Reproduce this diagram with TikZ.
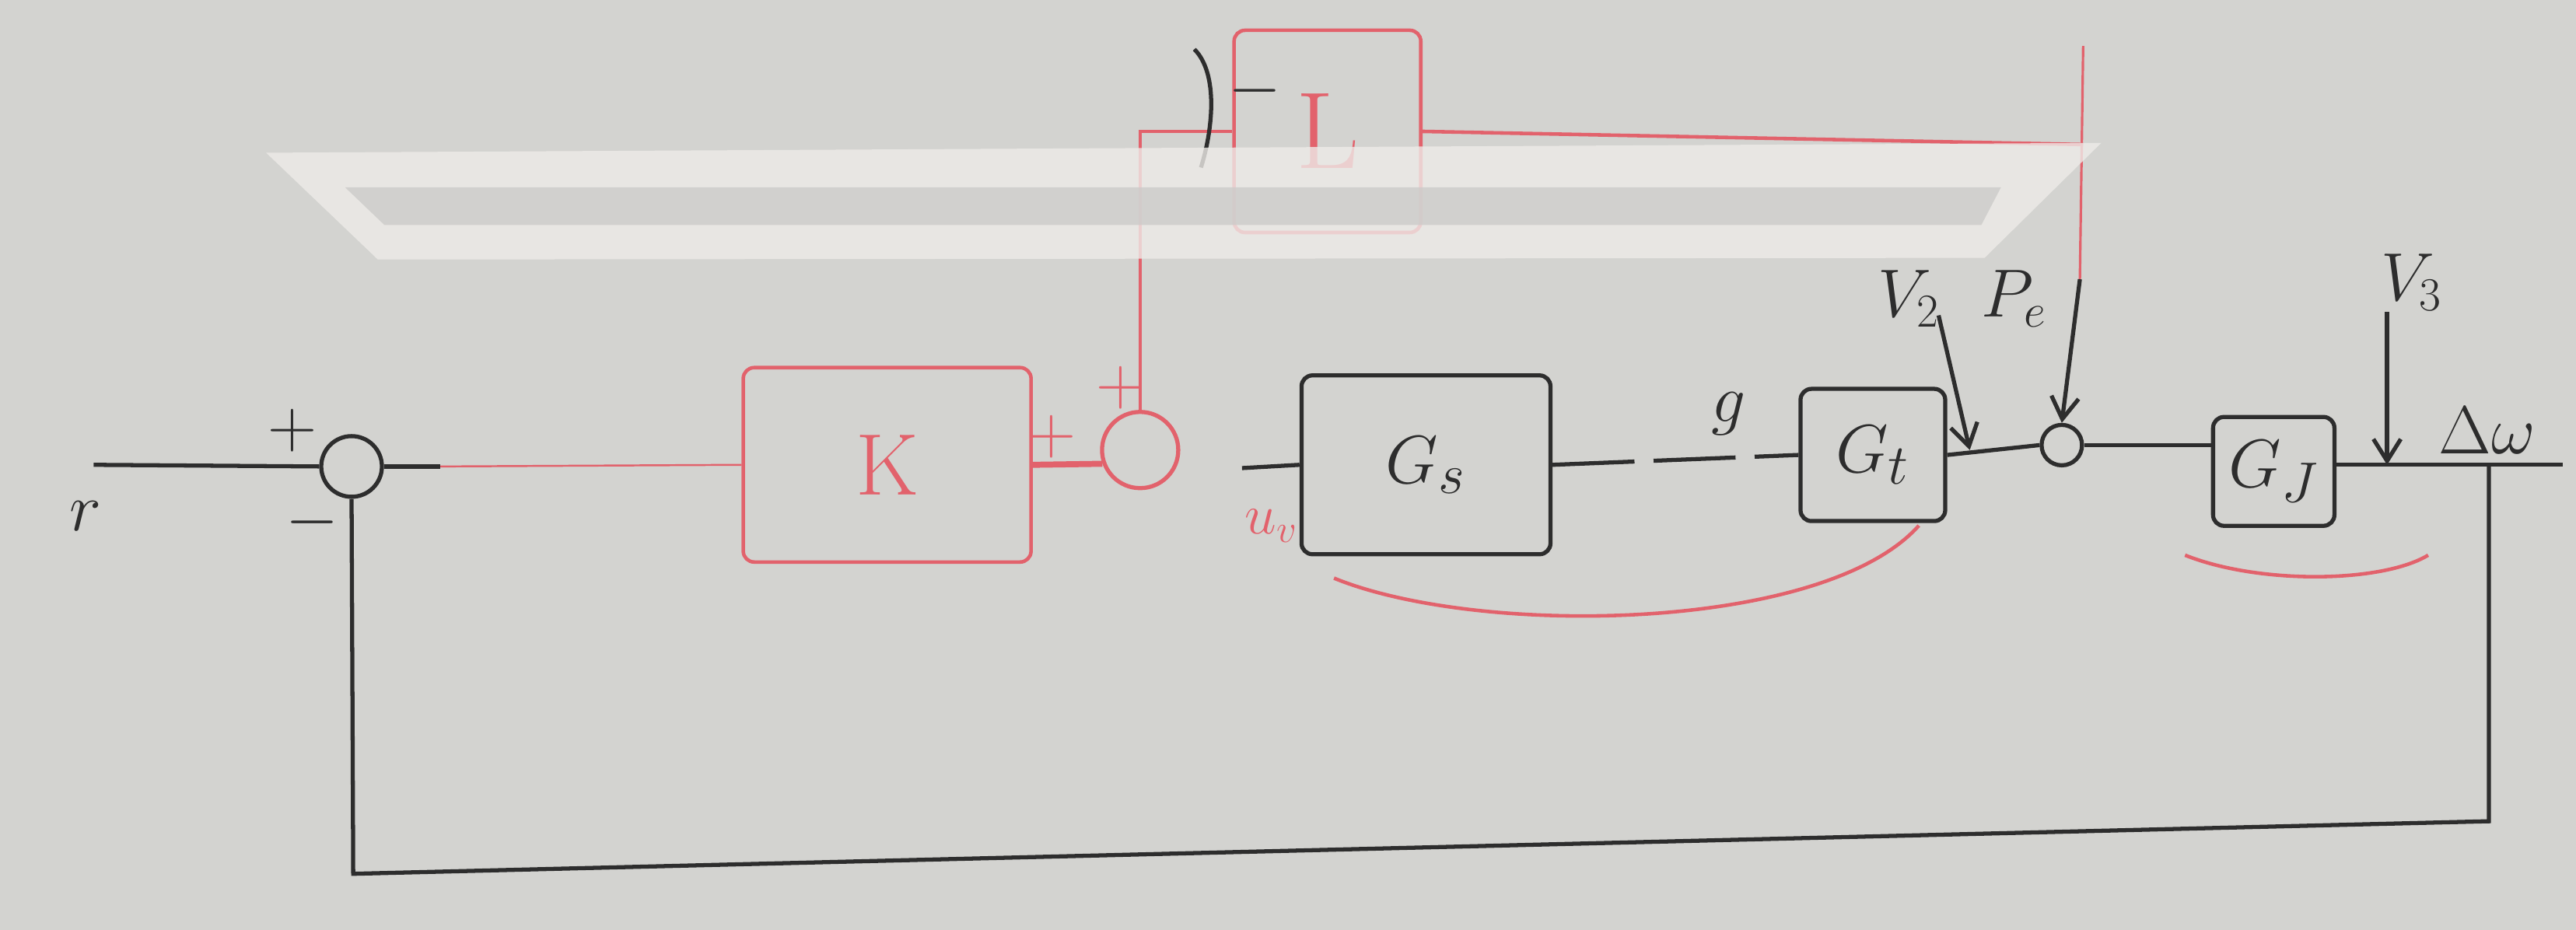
\documentclass[tikz,border=0pt]{standalone}
\usetikzlibrary{arrows.meta}
\definecolor{board}{RGB}{211,211,208}
\definecolor{glare}{RGB}{238,235,232}
\definecolor{stripe}{RGB}{204,203,201}
\definecolor{marker}{RGB}{45,45,45}
\definecolor{redmarker}{RGB}{226,98,108}

\tikzset{
  blk/.style={draw=marker, line width=1.5pt},
  redm/.style={draw=redmarker, line width=1.3pt},
  blkbox/.style={blk, rectangle, rounded corners=4pt, inner sep=0pt, text=marker,
    font=\fontsize{30}{34}\selectfont},
  redbox/.style={redm, rectangle, rounded corners=4pt, inner sep=0pt, text=redmarker,
    font=\fontsize{32}{36}\selectfont},
  sumjct/.style={blk, circle, inner sep=0pt},
  lbl/.style={text=marker, inner sep=0pt, font=\fontsize{24}{28}\selectfont},
  redlbl/.style={text=redmarker, inner sep=0pt, font=\fontsize{24}{28}\selectfont},
  hook/.style={-{Straight Barb[length=8pt,width=10pt]}}
}

\begin{document}
\begin{tikzpicture}[x=0.2112mm, y=-0.2112mm]
        % Board
        \fill[board] (0,0) rectangle (1568,566);
        \useasboundingbox (0,0) rectangle (1568,566);

        % Summing junctions
        \node[sumjct, minimum size=7.8mm] (s1) at (214,284) {};
        \node[sumjct, draw=redmarker, minimum size=9.8mm] (s2) at (694,274) {};
        \node[sumjct, minimum size=5.2mm] (s3) at (1255,271) {};

        % Blocks
        \node[redbox, minimum width=37mm, minimum height=25mm] (k) at (540,283) {K};
        \node[redbox, minimum width=24mm, minimum height=26mm,
              font=\fontsize{40}{44}\selectfont] (l) at (808,80) {L};
        \node[blkbox, minimum width=32mm, minimum height=23mm] (gs) at (868,283) {$G_s$};
        \node[blkbox, minimum width=18.6mm, minimum height=17mm] (gt) at (1140,277) {$G_t$};
        \node[blkbox, minimum width=15.6mm, minimum height=14mm] (gj) at (1384,287) {$G_J$};

        % Free ends
        \coordinate (rin) at (57,283);
        \coordinate (kin) at (268,284);
        \coordinate (gsin) at (756,285);
        \coordinate (tap) at (1515,283);
        \coordinate (yout) at (1560,283);
        \coordinate (fbr) at (1515,500);
        \coordinate (fbl) at (215,532);
        \coordinate (ltap) at (1268,88);
        \coordinate (pein) at (1268,28);
        \coordinate (pebend) at (1266,170);
        \coordinate (v2top) at (1180,192);
        \coordinate (v2pt) at (1199,274);
        \coordinate (v3top) at (1453,190);
        \coordinate (v3pt) at (1453,283);

        % Forward path
        \draw[blk] (rin) -- (s1.west);
        \draw[blk] (s1.east) -- (kin);
        \draw[redm, line width=0.7pt] (kin) -- (k.west);
        \draw[redm, line width=2.2pt] (k.east) -- (s2.200);
        \draw[blk] (gsin) -- (gs.west);
        \draw[blk, dash pattern=on 30pt off 7pt] (gs.east) -- (gt.west);
        \draw[blk] (gt.east) -- (s3.west);
        \draw[blk] (s3.east) -- (s3.east -| gj.west);
        \draw[blk] (gj.east |- yout) -- (yout);

        % Feedback path
        \draw[blk] (tap) -- (fbr) -- (fbl) -- (s1.south);

        % L loop
        \draw[redm] (s2.north) |- (l.west);
        \draw[redm] (l.east) -- (ltap);
        \draw[redm, line width=0.9pt] (pein) -- (pebend);
        \draw[blk, hook] (pebend) -- (s3.north);

        % Disturbances
        \draw[blk, hook] (v2top) -- (v2pt);
        \draw[blk, hook] (v3top) -- (v3pt);

        % Labels
        \node[lbl, font=\fontsize{30}{34}\selectfont] (rlab) at (52,314) {$r$};
        \node[lbl] (s1plus) at (178,262) {$+$};
        \node[lbl] (s1minus) at (190,318) {$-$};
        \node[redlbl] (s2plusa) at (640,266) {$+$};
        \node[redlbl] (s2plusb) at (682,236) {$+$};
        \node[redlbl, font=\fontsize{20}{24}\selectfont] (uvlab) at (774,320) {$u_v$};
        \node[lbl] (topminus) at (764,55) {$-$};
        \node[lbl, font=\fontsize{30}{34}\selectfont] (glab) at (1052,252) {$g$};
        \node[lbl] (v2lab) at (1162,182) {$V_2$};
        \node[lbl] (pelab) at (1226,182) {$P_e$};
        \node[lbl] (v3lab) at (1468,172) {$V_3$};
        \node[lbl, font=\fontsize{28}{32}\selectfont] (dwlab) at (1514,262) {$\Delta\omega$};

        % Marks
        \draw[blk] (727,30) .. controls (742,45) and (738,80) .. (731,102);
        \draw[redm] (812,352) .. controls (900,388) and (1110,385) .. (1168,320);
        \draw[redm] (1330,338) .. controls (1375,356) and (1450,355) .. (1478,338);

        % Glare band, over the strokes
        \fill[glare, fill opacity=0.8] (162,93) -- (1279,87) -- (1208,157) -- (230,158) -- cycle;
        \fill[stripe, fill opacity=0.8] (210,114) -- (1218,114) -- (1206,137) -- (234,137) -- cycle;
\end{tikzpicture}
\end{document}
